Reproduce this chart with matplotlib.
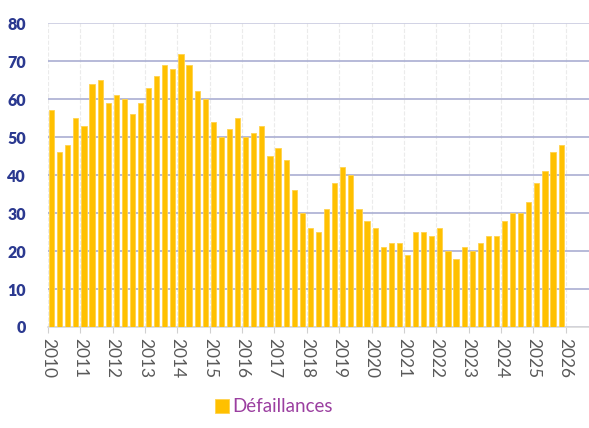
import numpy as np
import matplotlib.pyplot as plt

# quarterly values, 2010 Q1 -> 2025 Q4
values = [57, 46, 48, 55, 53, 64, 65, 59, 61, 60, 56, 59, 63, 66, 69, 68,
          72, 69, 62, 60, 54, 50, 52, 55, 50, 51, 53, 45, 47, 44, 36, 30,
          26, 25, 31, 38, 42, 40, 31, 28, 26, 21, 22, 22, 19, 25, 25, 24,
          26, 20, 18, 21, 20, 22, 24, 24, 28, 30, 30, 33, 38, 41, 46, 48]
start_year = 2010
years = list(range(2010, 2027))
yticks = [0, 10, 20, 30, 40, 50, 60, 70, 80]
label = "Défaillances"

plt.rcParams['font.family'] = ['Lato', 'DejaVu Sans']

fig = plt.figure(figsize=(5.89, 4.28), dpi=100)
ax = fig.add_axes([0.0815, 0.236, 0.9185, 0.71])

x = start_year + np.arange(len(values)) * 0.25 + 0.03
ax.bar(x, values, width=0.16, align='edge', color='#FFC000',
       edgecolor='#FFD34D', linewidth=0.6, label=label, zorder=3)

ax.set_xlim(2010, 2026.72)
ax.set_ylim(0, 80)
ax.set_yticks(yticks)
ax.set_xticks(years)
ax.set_xticklabels([str(y) for y in years], rotation=270, fontsize=12.5,
                   color='#595959')
ax.set_yticklabels([str(v) for v in yticks], fontsize=11.5, fontweight='heavy',
                   color='#2B3990')

ax.grid(axis='y', color='#AAAED2', linewidth=1.2, zorder=0)
ax.grid(axis='x', color='#EBEBEB', linewidth=0.8, linestyle='--', zorder=0)
ax.get_ygridlines()[-1].set_color('#C9CBE0')
for s in ['top', 'right', 'left']:
    ax.spines[s].set_visible(False)
ax.spines['bottom'].set_color('#D9D9D9')
ax.spines['bottom'].set_linewidth(1.2)
ax.tick_params(axis='y', length=0, pad=16)
ax.tick_params(axis='x', length=4, color='#D0D0D0', pad=4)

leg = fig.legend(loc='lower center', bbox_to_anchor=(0.465, -0.01), frameon=False,
                 fontsize=13.5, handlelength=0.75, handleheight=0.75,
                 handletextpad=0.2)
for t in leg.get_texts():
    t.set_color('#9B3FA0')

plt.savefig('out.png', dpi=100)
